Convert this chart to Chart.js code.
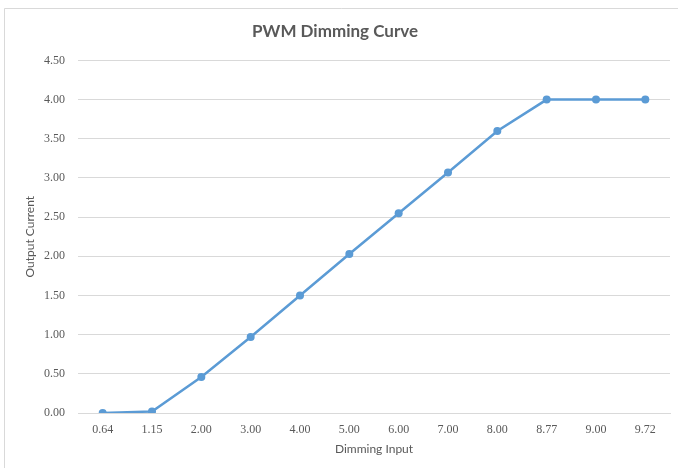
<!DOCTYPE html>
<html>
<head>
<meta charset="utf-8">
<script src="https://cdn.jsdelivr.net/npm/chart.js@4"></script>
<style>
html,body{margin:0;padding:0;background:#fff;}
#wrap{width:678px;height:468px;position:relative;}
</style>
</head>
<body>
<div id="wrap"><canvas id="c" width="678" height="468"></canvas></div>
<script>
const categories = ["0.64","1.15","2.00","3.00","4.00","5.00","6.00","7.00","8.00","8.77","9.00","9.72"];
const outputCurrent = [0, 0.02, 0.46, 0.97, 1.50, 2.03, 2.55, 3.07, 3.60, 4.00, 4.00, 4.00];
const yTicks = [0,0.5,1,1.5,2,2.5,3,3.5,4,4.5];

const frame = {
  id:'frame',
  beforeDraw(chart){
    const ctx = chart.ctx;
    ctx.save();
    ctx.fillStyle='#fff';
    ctx.fillRect(0,0,chart.width,chart.height);
    ctx.strokeStyle='#d9d9d9';
    ctx.lineWidth=1;
    ctx.beginPath();
    ctx.moveTo(4.5,chart.height);
    ctx.lineTo(4.5,8.5);
    ctx.lineTo(chart.width,8.5);
    ctx.stroke();
    ctx.restore();
  }
};

new Chart(document.getElementById('c'),{
  type:'line',
  data:{labels:categories,datasets:[{
    label:'Output Current',
    data:outputCurrent,
    borderColor:'#5B9BD5',
    backgroundColor:'#5B9BD5',
    borderWidth:2.5,
    pointRadius:4,
    pointBorderWidth:0,
    tension:0,
    fill:false
  }]},
  options:{
    responsive:false,
    animation:false,
    devicePixelRatio:1,
    layout:{padding:{left:0,right:8,top:0,bottom:0}},
    plugins:{
      legend:{display:false},
      tooltip:{enabled:false},
      title:{display:true,text:'PWM Dimming Curve',color:'#595959',
        font:{family:'Lato',size:17,weight:'bold'},padding:{top:21,bottom:19}}
    },
    scales:{
      x:{
        offset:true,
        grid:{display:false,drawTicks:false},
        border:{display:true,color:'#d9d9d9'},
        ticks:{color:'#595959',font:{family:'Liberation Serif',size:12},padding:10,maxRotation:0,autoSkip:false},
        title:{display:true,text:'Dimming Input',color:'#595959',font:{family:'Lato',size:12},padding:{top:4,bottom:12}},
        afterFit(s){s.height=55;}
      },
      y:{
        min:0,max:4.5,
        afterBuildTicks(s){s.ticks=yTicks.map(v=>({value:v}));},
        grid:{color:'#d9d9d9',drawTicks:false},
        border:{display:false},
        ticks:{color:'#595959',font:{family:'Liberation Serif',size:12},padding:13,callback:v=>Number(v).toFixed(2)},
        title:{display:true,text:'Output Current',color:'#595959',font:{family:'Lato',size:12},padding:{top:23,bottom:4}},
        afterFit(s){s.width=78;}
      }
    }
  },
  plugins:[frame]
});
</script>
</body>
</html>
